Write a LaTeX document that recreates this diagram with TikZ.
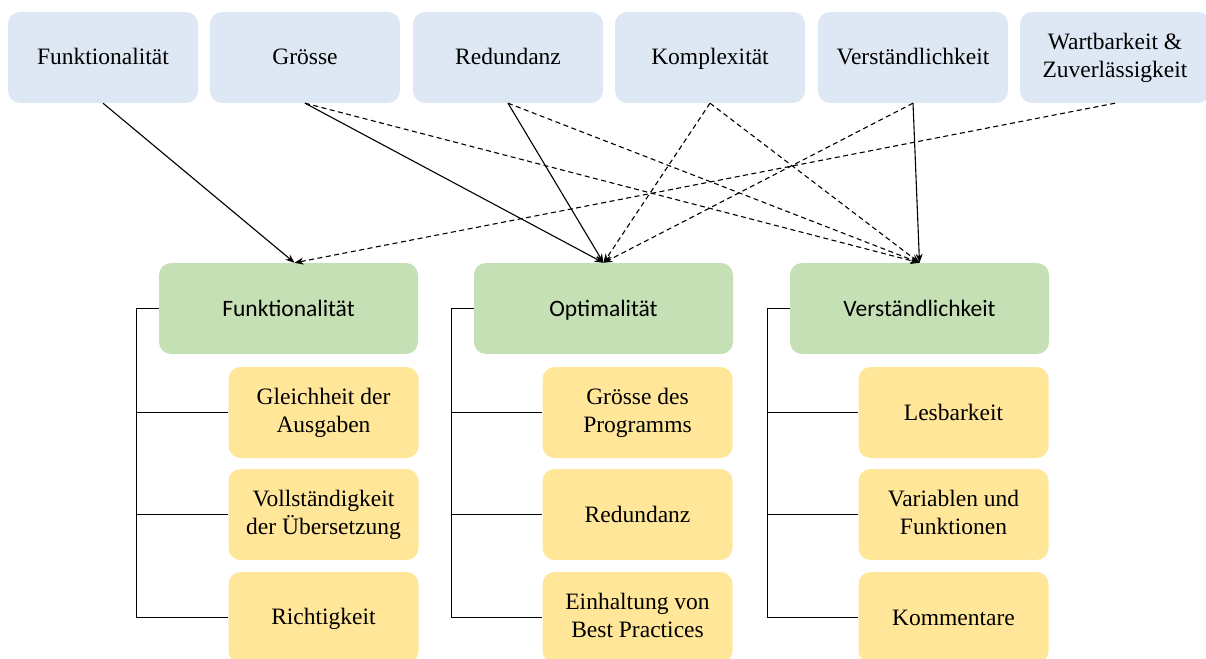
\documentclass[tikz,border=0pt]{standalone}
\usepackage{fontspec}
\setmainfont{Liberation Serif}
\newfontfamily\calibfont{Carlito}
\usetikzlibrary{arrows.meta}
\definecolor{topblue}{HTML}{DEE8F4}
\definecolor{catgreen}{HTML}{C5E0B4}
\definecolor{subyellow}{HTML}{FFE699}
\tikzset{
  box/.style={rounded corners=12pt,inner sep=0pt,align=center,
    execute at begin node={\rule{0pt}{20pt}},
    execute at end node={\rule[-5pt]{0pt}{5pt}},
    font=\fontsize{23.5}{28}\selectfont},
  topbox/.style={box,fill=topblue,minimum width=190pt,minimum height=91pt},
  catbox/.style={box,fill=catgreen,minimum width=259pt,minimum height=91pt,
    font=\calibfont\fontsize{23.5}{28}\selectfont},
  subbox/.style={box,fill=subyellow,minimum width=190pt,minimum height=91pt},
  link/.style={line width=1.1pt,-{Stealth[length=9pt,width=7pt]}},
  weak/.style={link,dash pattern=on 5pt off 3.5pt}
}
\begin{document}
\begin{tikzpicture}[x=1pt,y=-1pt]
  \useasboundingbox (0,0) rectangle (1206,658);
  \clip (0,0) rectangle (1206,658);
  % top row
  \node[topbox] (t1) at (103,57.5) {Funktionalität};
  \node[topbox] (t2) at (305,57.5) {Grösse};
  \node[topbox] (t3) at (508,57.5) {Redundanz};
  \node[topbox] (t4) at (710,57.5) {Komplexität};
  \node[topbox] (t5) at (913,57.5) {Verständlichkeit};
  \node[topbox] (t6) at (1115,57.5) {Wartbarkeit \&\\Zuverlässigkeit};
  % categories
  \node[catbox] (g1) at (288.5,308.5) {Funktionalität};
  \node[catbox] (g2) at (603.5,308.5) {Optimalität};
  \node[catbox] (g3) at (919.5,308.5) {Verständlichkeit};
  % sub criteria
  \node[subbox] (s11) at (323.5,412.5) {Gleichheit der\\Ausgaben};
  \node[subbox] (s12) at (323.5,514.5) {Vollständigkeit\\der Übersetzung};
  \node[subbox] (s13) at (323.5,617.5) {Richtigkeit};
  \node[subbox] (s21) at (637.5,412.5) {Grösse des\\Programms};
  \node[subbox] (s22) at (637.5,514.5) {Redundanz};
  \node[subbox] (s23) at (637.5,617.5) {Einhaltung von\\Best Practices};
  \node[subbox] (s31) at (953.5,412.5) {Lesbarkeit};
  \node[subbox] (s32) at (953.5,514.5) {Variablen und\\Funktionen};
  \node[subbox] (s33) at (953.5,617.5) {Kommentare};
  % brackets
  \foreach \c/\x in {1/136,2/451,3/767}{
    \coordinate (b\c) at (\x,308.5);
    \draw[line width=1pt] (g\c.west) -- (b\c) |- (s\c3.west);
    \draw[line width=1pt] (b\c |- s\c1.west) -- (s\c1.west);
    \draw[line width=1pt] (b\c |- s\c2.west) -- (s\c2.west);
  }
  % connections
  \draw[link] (t1.south) -- ([xshift=6pt]g1.north);
  \draw[link] (t2.south) -- (g2.north);
  \draw[link] (t3.south) -- (g2.north);
  \draw[link] (t5.south) -- (g3.north);
  \draw[weak] (t2.south) -- (g3.north);
  \draw[weak] (t3.south) -- (g3.north);
  \draw[weak] (t4.south) -- (g2.north);
  \draw[weak] (t4.south) -- (g3.north);
  \draw[weak] (t5.south) -- (g2.north);
  \draw[weak] (t6.south) -- ([xshift=6pt]g1.north);
\end{tikzpicture}
\end{document}
